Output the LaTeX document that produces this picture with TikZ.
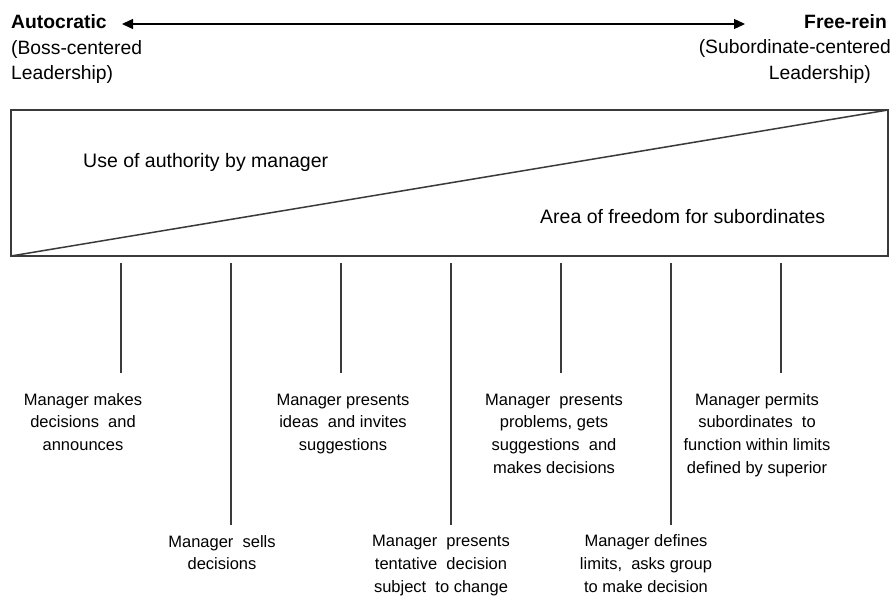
\documentclass[tikz,border=0pt]{standalone}
\usepackage{fontspec}
\setmainfont{Liberation Sans}
\usetikzlibrary{arrows.meta}
\definecolor{linegray}{HTML}{3A3A3A}
\begin{document}
\begin{tikzpicture}[x=1pt,y=-1pt,
  lbl/.style={font=\fontsize{16.5}{22.8}\selectfont, align=center, anchor=base, inner sep=0pt},
  head/.style={font=\fontsize{19.3}{25.5}\selectfont, inner sep=0pt},
  boxtext/.style={font=\fontsize{19.5}{24}\selectfont, anchor=base west, inner sep=0pt},
  stem/.style={draw=linegray, line width=1.6pt},
  boxline/.style={draw=linegray, line width=1.8pt},
  scalearrow/.style={draw=black, line width=1.3pt, {Triangle[length=11pt,width=10pt]}-{Triangle[length=11pt,width=10pt]}}]
\useasboundingbox (0,0) rectangle (891,596);

% headings (anchor = baseline of last line)
\node[head, align=left, anchor=base west] (auto) at (11,80)
  {\textbf{Autocratic}\\(Boss-centered\\Leadership)};
\node[head, align=right, anchor=base east] (free) at (891,79.5)
  {\textbf{Free-rein}\hspace*{4pt}\\(Subordinate-centered\\Leadership)\hspace*{20pt}};

% scale arrow
\coordinate (al) at (122,24);
\coordinate (ar) at (745,24);
\draw[scalearrow] (al) -- (ar);

% box with diagonal
\coordinate (bl) at (11,256);
\coordinate (tr) at (888,110);
\draw[boxline] (11,110) rectangle (888,256);
\draw[boxline, line width=1.5pt] (bl) -- (tr);
\node[boxtext] (use) at (83,168) {Use of authority by manager};
\node[boxtext] (area) at (540,223) {Area of freedom for subordinates};

% stems
\foreach \i/\x/\e in {1/121/373, 2/231/525, 3/341/373, 4/451/525, 5/561/373, 6/671/525, 7/781/373} {
  \coordinate (t\i) at (\x,263);
  \coordinate (b\i) at (\x,\e);
  \draw[stem] (t\i) -- (b\i);
}

% labels (anchor = baseline of last line)
\node[lbl] (l1) at (83,450.6) {Manager makes\\decisions\ \ and\\announces};
\node[lbl] (l2) at (222,569.8) {Manager\ \ sells\\decisions};
\node[lbl] (l3) at (343,450.6) {Manager presents\\ideas\ \ and invites\\suggestions};
\node[lbl] (l4) at (441,592.4) {Manager\ \ presents\\tentative\ \ decision\\subject\ \ to change};
\node[lbl] (l5) at (554,473.4) {Manager\ \ presents\\problems, gets\\suggestions\ \ and\\makes decisions};
\node[lbl] (l6) at (646,592.4) {Manager defines\\limits,\ \ asks group\\to make decision};
\node[lbl] (l7) at (757,473.4) {Manager permits\\subordinates\ \ to\\function within limits\\defined by superior};
\end{tikzpicture}
\end{document}
